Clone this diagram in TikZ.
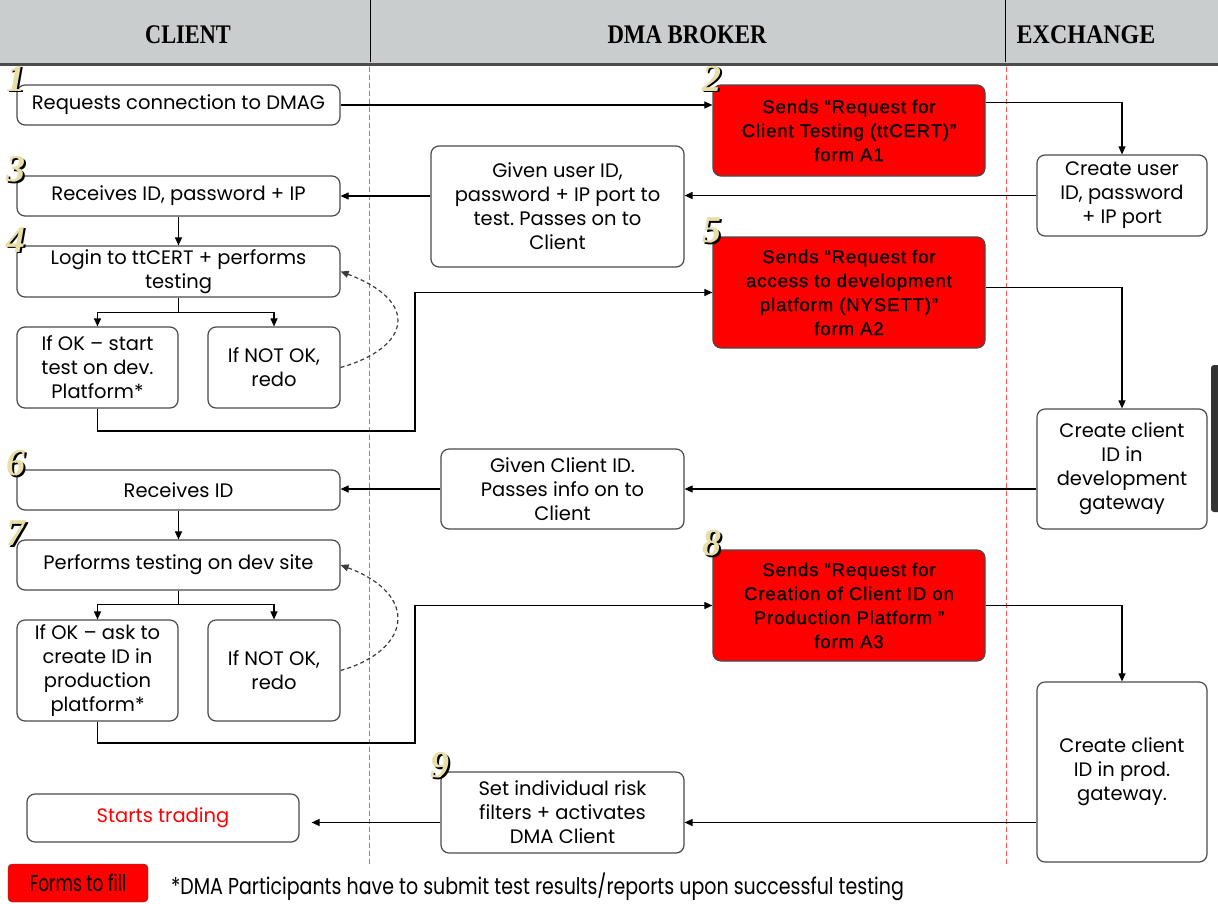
\documentclass[tikz,border=0pt]{standalone}
\usepackage{fontspec}
\usepackage{graphicx}
\usetikzlibrary{arrows.meta,calc,positioning}
\newfontfamily\gothic{Poppins}
\newfontfamily\formfont[LetterSpace=5,FakeBold=0.6]{Liberation Sans}
\newfontfamily\headfont{Liberation Serif}
\newfontfamily\numfont{Liberation Serif}
\definecolor{formred}{HTML}{FF0000}
\definecolor{headgray}{HTML}{C9CDCD}
\definecolor{boxline}{HTML}{4A4A4A}
\definecolor{lanered}{HTML}{FF4D4D}
\definecolor{numgold}{HTML}{E8DFA8}
\newcommand{\stepno}[1]{\rlap{\kern1.8pt\raisebox{-1.8pt}{\textcolor{black}{#1}}}\textcolor{numgold}{#1}}

\tikzset{
  box/.style={draw=boxline, line width=1.2pt, rounded corners=8pt, fill=white,
    align=center, inner sep=2pt, font=\gothic\fontsize{19.5}{24}\selectfont},
  formbox/.style={box, fill=formred, font=\formfont\fontsize{18.5}{24}\selectfont},
  numbadge/.style={inner sep=0pt, font=\numfont\bfseries\itshape\fontsize{38}{38}\selectfont},
  headtxt/.style={font=\headfont\bfseries\fontsize{24}{24}\selectfont},
  arr/.style={draw=black, line width=1.1pt, -{Triangle[length=8pt,width=7pt]}},
  redoloop/.style={draw=boxline!80!black, line width=1.2pt, dash pattern=on 4pt off 3pt, -{Triangle[length=8pt,width=7pt]}},
  lane/.style={draw=lanered, line width=1pt, dash pattern=on 5pt off 3pt}
}

\begin{document}
\begin{tikzpicture}[x=1pt, y=-1pt]
  \useasboundingbox (0,0) rectangle (1218,903);
  %% header band
  \fill[headgray] (0,0) rectangle (1218,63);
  \draw[gray!60!black, line width=3pt] (0,64) -- (1218,64);
  \draw[black, line width=0.8pt] (370,0) -- (370,62) (1005,0) -- (1005,62);
  \node[headtxt] (hclient) at (188,35) {\scalebox{0.93}[1.12]{CLIENT}};
  \node[headtxt] (hbroker) at (687,35) {\scalebox{0.95}[1.12]{DMA BROKER}};
  \node[headtxt] (hexch) at (1086,35) {\scalebox{1.0}[1.12]{EXCHANGE}};
  %% lanes
  \draw[lane] (369,67) -- (369,866);
  \draw[lane] (1006,67) -- (1006,866);
  \fill[gray!40!black, rounded corners=3pt] (1211,365) rectangle (1222,512);

  %% client column
  \node[box, minimum width=323, minimum height=40] (req) at (178.5,105) {Requests connection to DMAG};
  \node[box, minimum width=323, minimum height=40] (recv) at (178.5,196) {Receives ID, password + IP};
  \node[box, minimum width=323, minimum height=51] (login) at (178.5,271.5) {Login to ttCERT + performs\\testing};
  \node[box, minimum width=161, minimum height=81] (okdev) at (97.5,367.5) {If OK – start\\test on dev.\\Platform*};
  \node[box, minimum width=132, minimum height=81] (redoA) at (274,367.5) {If NOT OK,\\redo};
  \node[box, minimum width=323, minimum height=40] (recvid) at (178.5,490) {Receives ID};
  \node[box, minimum width=323, minimum height=50] (testdev) at (178.5,565) {Performs testing on dev site};
  \node[box, minimum width=161, minimum height=101] (okprod) at (97.5,670.5) {If OK – ask to\\create ID in\\production\\platform*};
  \node[box, minimum width=132, minimum height=101] (redoB) at (274,670.5) {If NOT OK,\\redo};
  \node[box, minimum width=272, minimum height=48, text=formred] (trade) at (163,818) {Starts trading};

  %% broker column
  \node[formbox, minimum width=272, minimum height=91] (formA) at (849,130.5) {Sends “Request for\\Client Testing (ttCERT)”\\form A1};
  \node[box, minimum width=253, minimum height=121] (given) at (557.5,206.5) {Given user ID,\\password + IP port to\\test.\ Passes on to\\Client};
  \node[formbox, minimum width=272, minimum height=111] (formB) at (849,292.5) {Sends “Request for\\access to development\\platform (NYSETT)”\\form A2};
  \node[box, minimum width=243, minimum height=80] (givenid) at (562.5,489) {Given Client ID.\\Passes info on to\\Client};
  \node[formbox, minimum width=272, minimum height=111] (formC) at (849,605.5) {Sends “Request for\\Creation of Client ID on\\Production Platform ”\\form A3};
  \node[box, minimum width=243, minimum height=81] (risk) at (562.5,812.5) {Set individual risk\\filters + activates\\DMA Client};

  %% exchange column
  \node[box, minimum width=170, minimum height=81] (userid) at (1122,195.5) {Create user\\ID, password\\+ IP port};
  \node[box, minimum width=170, minimum height=120] (devgw) at (1122,469) {Create client\\ID in\\development\\gateway};
  \node[box, minimum width=170, minimum height=180] (prodgw) at (1122,772) {Create client\\ID in prod.\\gateway.};

  %% step numbers
  \node[numbadge] (n1) at ([yshift=5pt]req.north west) {\stepno{1}};
  \node[numbadge] (n2) at ([yshift=5pt]formA.north west) {\stepno{2}};
  \node[numbadge] (n3) at ([yshift=5pt]recv.north west) {\stepno{3}};
  \node[numbadge] (n4) at ([yshift=5pt]login.north west) {\stepno{4}};
  \node[numbadge] (n5) at ([yshift=5pt]formB.north west) {\stepno{5}};
  \node[numbadge] (n6) at ([yshift=5pt]recvid.north west) {\stepno{6}};
  \node[numbadge] (n7) at ([yshift=5pt]testdev.north west) {\stepno{7}};
  \node[numbadge] (n8) at ([yshift=5pt]formC.north west) {\stepno{8}};
  \node[numbadge] (n9) at ([yshift=5pt]risk.north west) {\stepno{9}};

  %% legend
  \node[draw=boxline, fill=formred, rounded corners=4pt, minimum width=140, minimum height=38,
    font=\gothic\fontsize{20}{20}\selectfont] (legend) at (78,883) {\scalebox{0.85}[1.15]{Forms to fill}};
  \node[anchor=west, inner sep=0pt, font=\gothic\fontsize{20}{20}\selectfont] (note) at (171,887)
    {\scalebox{0.95}[1.15]{*DMA Participants have to submit test results/reports upon successful testing}};

  %% flow
  \coordinate (bendA) at (415,431);
  \coordinate (bendB) at (415,743);
  \coordinate (riskline) at ([yshift=-10pt]risk.east);
  \draw[arr] (req.east) -- (req.east -| formA.west);
  \draw[arr] ([yshift=28pt]formA.east) -| (userid.north);
  \draw[arr] (userid.west) -- (userid.west -| given.east);
  \draw[arr] (given.west |- recv.east) -- (recv.east);
  \draw[arr] (recv.south) -- (login.north);
  \draw[arr] (login.south) -- ++(0,15) -| (okdev.north);
  \draw[arr] (login.south) -- ++(0,15) -| (redoA.north);
  \draw[redoloop] (redoA.east) .. controls +(70,-20) and +(80,30) .. (login.east);
  \draw[arr] (okdev.south) |- (bendA) |- (formB.west);
  \draw[arr] ([yshift=5pt]formB.east) -| (devgw.north);
  \draw[arr] (givenid.east -| devgw.west) -- (givenid.east);
  \draw[arr] (givenid.west) -- (givenid.west -| recvid.east);
  \draw[arr] (recvid.south) -- (testdev.north);
  \draw[arr] (testdev.south) -- ++(0,14) -| (okprod.north);
  \draw[arr] (testdev.south) -- ++(0,14) -| (redoB.north);
  \draw[redoloop] (redoB.east) .. controls +(70,-20) and +(80,30) .. (testdev.east);
  \draw[arr] (okprod.south) |- (bendB) |- (formC.west);
  \draw[arr] (formC.east) -| (prodgw.north);
  \draw[arr] (riskline -| prodgw.west) -- (riskline);
  \draw[arr, shorten >=12pt] (riskline -| risk.west) -- (riskline -| trade.east);
\end{tikzpicture}
\end{document}
